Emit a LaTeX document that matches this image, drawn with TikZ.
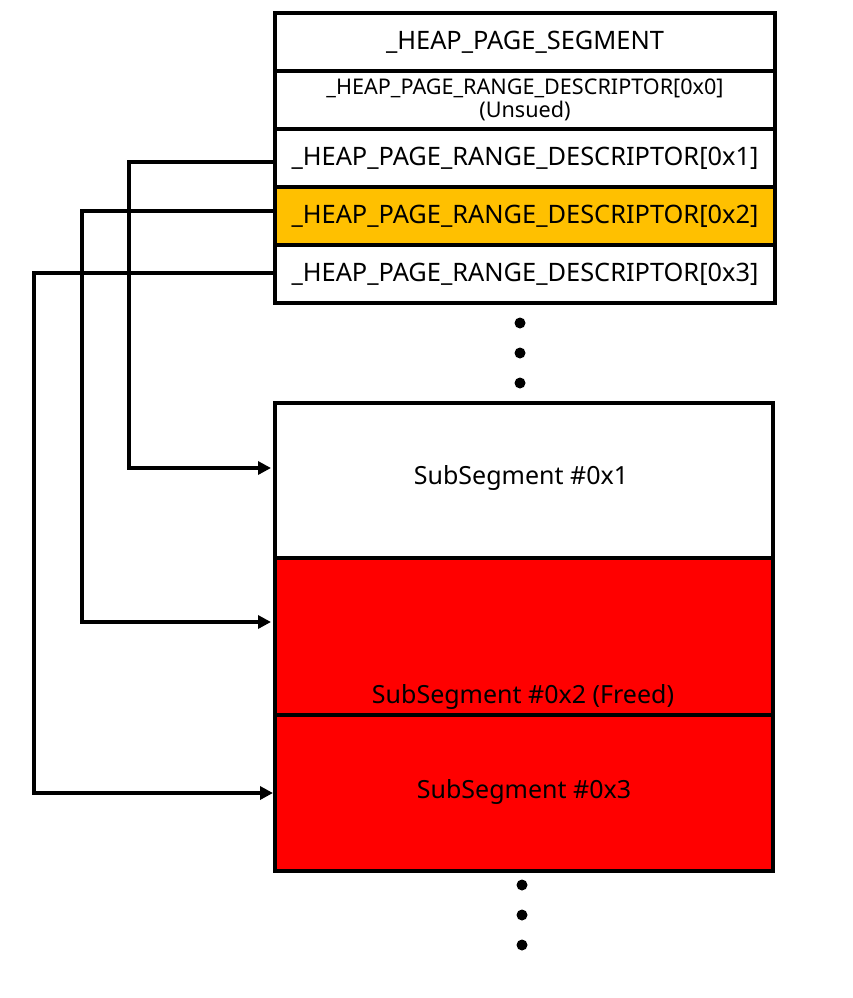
\documentclass[tikz,border=0pt]{standalone}
\usepackage{fontspec}
\setmainfont{Noto Sans}
\usetikzlibrary{arrows.meta,calc}
\definecolor{orangefill}{HTML}{FFC000}
\definecolor{redfill}{HTML}{FF0000}
\begin{document}
\begin{tikzpicture}[x=1pt,y=-1pt,
  row/.style={draw=black,line width=4.5pt,minimum width=500pt,minimum height=58pt,inner sep=0pt,outer sep=0pt,font=\fontsize{25.4}{29}\selectfont,fill=white},
  subseg/.style={draw=black,line width=4.5pt,minimum width=498pt,inner sep=0pt,outer sep=0pt,font=\fontsize{25}{29}\selectfont},
  conn/.style={line width=4pt,-{Triangle[length=13pt,width=13pt]}},
  dot/.style={circle,fill=black,minimum size=11pt,inner sep=0pt}]
\useasboundingbox (0,0) rectangle (853,998);
% top structure
\node[row] (seg) at (525,42) {\_HEAP\_PAGE\_SEGMENT};
\node[row,font=\fontsize{21.6}{26}\selectfont,align=center] (d0) at (525,100) {\_HEAP\_PAGE\_RANGE\_DESCRIPTOR[0x0]\\[-3pt](Unsued)};
\node[row] (d1) at (525,158) {\_HEAP\_PAGE\_RANGE\_DESCRIPTOR[0x1]};
\node[row,fill=orangefill] (d2) at (525,216) {\_HEAP\_PAGE\_RANGE\_DESCRIPTOR[0x2]};
\node[row] (d3) at (525,274) {\_HEAP\_PAGE\_RANGE\_DESCRIPTOR[0x3]};
% dots
\node[dot] (u1) at (520,323) {};
\node[dot] (u2) at (520,353) {};
\node[dot] (u3) at (520,383) {};
% subsegments
\node[subseg,minimum height=155pt,fill=white] (s1) at (524,480.5) {};
\node[font=\fontsize{25}{29}\selectfont,inner sep=0pt] (s1t) at (521,478) {SubSegment \#0x1};
\node[subseg,minimum height=157pt,fill=redfill] (s2) at (524,636.5) {};
\node[font=\fontsize{25}{29}\selectfont,inner sep=0pt] (s2t) at (523,697) {SubSegment \#0x2 (Freed)};
\node[subseg,minimum height=156pt,fill=redfill] (s3) at (524,793) {};
\node[font=\fontsize{25}{29}\selectfont,inner sep=0pt] (s3t) at (524,792) {SubSegment \#0x3};
% dots
\node[dot] (b1) at (522,885) {};
\node[dot] (b2) at (522,915) {};
\node[dot] (b3) at (522,945) {};
% connectors
\coordinate (t1) at (271,468);
\coordinate (t2) at (271,622);
\coordinate (t3) at (273,793);
\draw[conn] (d1.west |- 0,162) -- (129,162) |- (t1);
\draw[conn] (d2.west |- 0,211) -- (82,211) |- (t2);
\draw[conn] (d3.west |- 0,273) -- (34,273) |- (t3);
\end{tikzpicture}
\end{document}
